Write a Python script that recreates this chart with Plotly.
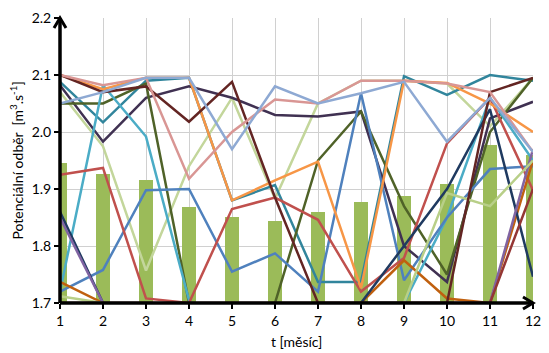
import plotly.graph_objects as go

months = list(range(1, 13))
bar_values = [1.945, 1.927, 1.916, 1.869, 1.851, 1.843, 1.860, 1.878, 1.888, 1.909, 1.977, 1.960]

series = {
    "light_green": [2.07, 1.975, 1.757, 1.94, 2.06, 1.883, 2.05, 2.09, 2.09, 2.085, 2.01, 2.095],
    "dark_teal": [2.088, 2.017, 2.09, 2.095, 1.88, 1.907, 1.737, 1.737, 2.098, 2.065, 2.10, 2.09],
    "dark_purple": [2.082, 1.983, 2.06, 2.08, 2.06, 2.03, 2.027, 2.036, 1.80, 1.737, 2.024, 2.053],
    "dark_green": [2.05, 2.05, 2.085, 1.70, 1.62, 1.70, 1.95, 2.036, 1.87, 1.75, 2.0, 2.095],
    "aqua": [1.72, 2.082, 1.992, 1.705, 1.62, 1.64, 1.66, 1.70, 1.70, 1.85, 2.06, 1.95],
    "blue": [1.72, 1.758, 1.898, 1.90, 1.755, 1.787, 1.72, 2.068, 1.74, 1.85, 1.935, 1.94],
    "red": [1.925, 1.937, 1.708, 1.70, 1.865, 1.885, 1.846, 1.72, 1.779, 1.98, 2.06, 1.898],
    "orange": [2.10, 2.075, 2.095, 2.095, 1.88, 1.915, 1.948, 1.726, 2.09, 2.086, 2.05, 2.0],
    "brown_orange": [1.737, 1.70, 1.65, 1.62, 1.62, 1.65, 1.68, 1.70, 1.775, 1.708, 1.70, 1.95],
    "dark_blue": [1.86, 1.70, 1.64, 1.63, 1.62, 1.64, 1.66, 1.70, 1.80, 1.90, 2.04, 1.746],
    "purple": [1.85, 1.70, 1.66, 1.64, 1.63, 1.64, 1.66, 1.68, 1.69, 1.70, 1.70, 1.97],
    "light_green2": [1.712, 1.70, 1.66, 1.64, 1.63, 1.64, 1.66, 1.68, 1.70, 1.893, 1.87, 1.95],
    "dark_red": [2.10, 2.07, 2.08, 2.018, 2.088, 1.885, 1.70, 1.70, 1.70, 1.70, 2.07, 2.095],
    "pink": [2.10, 2.082, 2.095, 1.918, 2.0, 2.057, 2.05, 2.09, 2.09, 2.085, 2.07, 1.965],
    "blue_gray": [2.05, 2.07, 2.095, 2.095, 1.97, 2.08, 2.05, 2.068, 2.088, 1.983, 2.06, 1.965],
    "dark_red_low": [1.70, 1.70, 1.70, 1.70, 1.70, 1.70, 1.70, 1.70, 1.70, 1.70, 1.70, 1.90],
}

colors = {
    "light_green": "#C3D69B",
    "dark_teal": "#31859C",
    "dark_purple": "#403152",
    "dark_green": "#4F6228",
    "aqua": "#4BACC6",
    "blue": "#4F81BD",
    "red": "#C0504D",
    "orange": "#F79646",
    "brown_orange": "#C0600F",
    "dark_blue": "#1F3A60",
    "purple": "#8064A2",
    "light_green2": "#B8CF88",
    "dark_red": "#632523",
    "pink": "#D99694",
    "blue_gray": "#8EA9D3",
    "dark_red_low": "#943634",
}

y_ticks = [1.7, 1.8, 1.9, 2.0, 2.1, 2.2]

fig = go.Figure()
fig.add_trace(go.Bar(x=months, y=bar_values, width=0.33,
                     marker=dict(color="#9BBB59", line=dict(width=0)),
                     showlegend=False))
for name, vals in series.items():
    fig.add_trace(go.Scatter(x=months, y=vals, mode="lines",
                             line=dict(color=colors[name], width=2.5),
                             showlegend=False))

font_family = "Lato, 'Open Sans', sans-serif"
fig.update_layout(
    width=549, height=353,
    margin=dict(l=60, r=16, t=18, b=50),
    paper_bgcolor="white", plot_bgcolor="white",
    font=dict(family=font_family, size=14, color="#000000"),
    bargap=0,
    xaxis=dict(range=[1, 12], tickvals=months, showgrid=True, gridcolor="#D0D0D0",
               gridwidth=1, showline=False, zeroline=False, automargin=False,
               ticks="outside", ticklen=5, tickcolor="black", tickwidth=1.5),
    yaxis=dict(range=[1.7, 2.2], tickvals=y_ticks, tickformat=".1f",
               showgrid=True, gridcolor="#D0D0D0", gridwidth=1, automargin=False,
               showline=False, zeroline=False,
               ticks="outside", ticklen=5, tickcolor="black", tickwidth=1.5),
)

# axis titles
fig.add_annotation(text="t [měsíc]", xref="paper", yref="paper", x=0.5, y=0,
                   xanchor="center", yanchor="top",
                   yshift=-28, showarrow=False, font=dict(size=14))
fig.add_annotation(text="Potenciální odběr  [m<sup>3</sup>.s<sup>-1</sup>]",
                   xref="paper", yref="paper", x=0, y=0.5, xshift=-43,
                   xanchor="center", yanchor="middle",
                   textangle=-90, showarrow=False, font=dict(size=14))

# axes lines with arrowheads
fig.add_shape(type="line", xref="paper", yref="paper", x0=0, x1=0, y0=0, y1=1,
              line=dict(color="black", width=3.5))
fig.add_shape(type="line", xref="paper", yref="paper", x0=0, x1=1, y0=0, y1=0,
              line=dict(color="black", width=3.5))
fig.add_shape(type="path", xref="paper", yref="paper",
              xsizemode="pixel", ysizemode="pixel", xanchor=0, yanchor=1,
              path="M -6 -10 L 0 0 L 6 -10", line=dict(color="black", width=3))
fig.add_shape(type="path", xref="paper", yref="paper",
              xsizemode="pixel", ysizemode="pixel", xanchor=1, yanchor=0,
              path="M -10 6 L 0 0 L -10 -6", line=dict(color="black", width=3))

fig.write_html("out.html")
